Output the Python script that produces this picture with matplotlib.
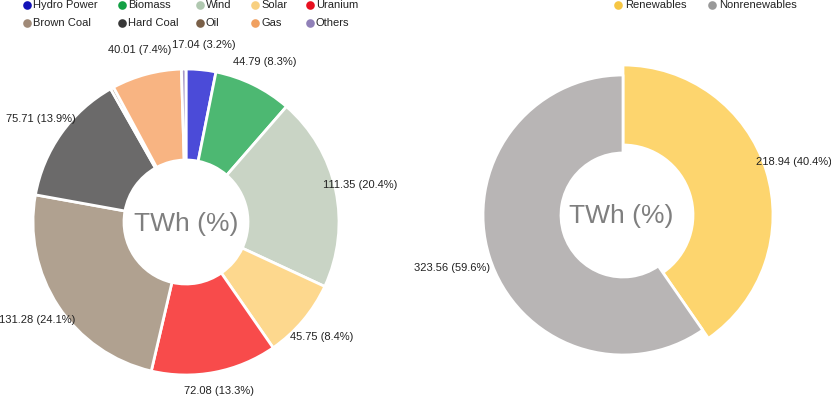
import matplotlib
matplotlib.use("Agg")
import matplotlib.pyplot as plt
import numpy as np

plt.rcParams['font.family'] = ['Liberation Sans', 'DejaVu Sans']

# electricity generation by source (TWh)
sources = ["Hydro Power", "Biomass", "Wind", "Solar", "Uranium",
           "Brown Coal", "Hard Coal", "Oil", "Gas", "Others"]
source_twh = [17.04, 44.79, 111.35, 45.75, 72.08, 131.28, 75.71, 1.9, 40.01, 2.59]
source_pct = [3.2, 8.3, 20.4, 8.4, 13.3, 24.1, 13.9, None, 7.4, None]

# renewables vs nonrenewables (TWh)
groups = ["Renewables", "Nonrenewables"]
group_twh = [218.94, 323.56]
group_pct = [40.4, 59.6]

# colours: slices are drawn lighter than the legend dots
source_colors = ["#4b4bd8", "#4db872", "#c9d4c5", "#fdd88e", "#f84b4b",
                 "#b0a190", "#6b6a6a", "#a48f7d", "#f8b482", "#a89ac8"]
source_dots = ["#1212b8", "#12a044", "#b0c8b0", "#f8d080", "#e81020",
               "#a08a78", "#383838", "#7a6048", "#f0a060", "#9080b8"]
group_colors = ["#fdd56e", "#b8b5b5"]
group_dots = ["#f6c643", "#999999"]

W, H = 831, 398
fig = plt.figure(figsize=(W / 100, H / 100), dpi=100)
ax = fig.add_axes([0, 0, 1, 1])


def ypx(y):
    # pixel row measured from the top -> data y
    return H - y


def put_labels(wedges, values, pcts, center, r_lab):
    for w, v, p in zip(wedges, values, pcts):
        if p is None:
            continue
        mid = np.radians((w.theta1 + w.theta2) / 2)
        x = center[0] + r_lab * np.cos(mid)
        y = center[1] + r_lab * np.sin(mid)
        # keep labels inside the picture
        y = min(max(y, ypx(391)), ypx(8))
        ax.text(x, y, f"{v:.2f} ({p}%)", ha="center", va="center",
                fontsize=8, color="#222222")


wp = dict(edgecolor="white", linewidth=2, joinstyle="round")

# left donut
c1 = (186, ypx(222))
w1, _ = ax.pie(source_twh, colors=source_colors, startangle=90, counterclock=False,
               radius=153, center=c1, wedgeprops=dict(width=91, **wp))
put_labels(w1, source_twh, source_pct, c1, 178)
ax.text(c1[0], ypx(224), "TWh (%)", ha="center", va="center",
        fontsize=19, color="#7f7f7f")

# right donut
c2 = (623, ypx(215))
w2, _ = ax.pie(group_twh, colors=group_colors, startangle=90, counterclock=False,
               radius=140, center=c2, wedgeprops=dict(width=78, **wp))
# the renewables slice sticks out a little
w2[0].set_radius(150)
w2[0].set_width(80)
put_labels(w2, group_twh, group_pct, c2, 179)
ax.text(c2[0] - 2, ypx(216), "TWh (%)", ha="center", va="center",
        fontsize=19, color="#7f7f7f")

# legends
col_x = [27, 122, 200, 255, 310]
row_y = [5, 23]
for i, (name, col) in enumerate(zip(sources, source_dots)):
    x, y = col_x[i % 5], row_y[i // 5]
    ax.plot(x, ypx(y), "o", ms=6.2, color=col, mec="none")
    ax.text(x + 6, ypx(y), name, ha="left", va="center", fontsize=8, color="#222222")

for x, name, col in zip([618, 712], groups, group_dots):
    ax.plot(x, ypx(5), "o", ms=6.2, color=col, mec="none")
    ax.text(x + 7, ypx(5), name, ha="left", va="center", fontsize=8, color="#222222")

ax.set_xlim(0, W)
ax.set_ylim(0, H)
ax.set_aspect("auto")
ax.axis("off")

fig.savefig("out.png", dpi=100, facecolor="white")
